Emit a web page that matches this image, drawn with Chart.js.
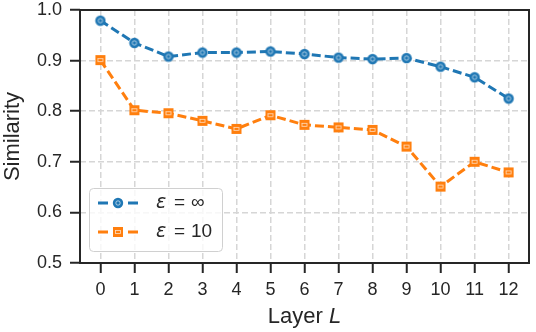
<!DOCTYPE html>
<html lang="en">
<head>
  <meta charset="UTF-8" />
  <title>Similarity per layer</title>
  <script src="https://cdn.jsdelivr.net/npm/chart.js"></script>
  <style>
    html, body { margin: 0; padding: 0; background: #fff; }
  </style>
</head>
<body>
  <canvas id="simChart" width="536" height="332"></canvas>

  <script>
    // data
    const layers = [0, 1, 2, 3, 4, 5, 6, 7, 8, 9, 10, 11, 12];
    const simInf = [0.979, 0.935, 0.908, 0.916, 0.916, 0.918, 0.913, 0.906, 0.903, 0.905, 0.888, 0.867, 0.825];
    const sim10 = [0.901, 0.802, 0.796, 0.781, 0.765, 0.792, 0.773, 0.768, 0.763, 0.730, 0.651, 0.700, 0.679];
    const yTicks = [0.5, 0.6, 0.7, 0.8, 0.9, 1.0];
    const epsLabels = ['\u221E', '10'];

    const BLUE = '#1f77b4';
    const ORANGE = '#ff7f0e';
    const INK = '#262626';
    const FONT = '"Liberation Sans", Arial, sans-serif';

    function makeMarker(color, shape) {
      const c = document.createElement('canvas');
      c.width = 12; c.height = 12;
      const g = c.getContext('2d');
      g.fillStyle = color;
      g.strokeStyle = 'rgba(255,255,255,0.75)';
      g.lineWidth = 0.8;
      if (shape === 'circle') {
        g.beginPath(); g.arc(6, 6, 5.2, 0, Math.PI * 2); g.fill();
        g.beginPath(); g.arc(6, 6, 2.2, 0, Math.PI * 2); g.stroke();
      } else {
        g.fillRect(1, 1, 10, 10);
        g.strokeRect(3.5, 4.5, 5, 3);
      }
      return c;
    }
    const markers = [makeMarker(BLUE, 'circle'), makeMarker(ORANGE, 'square')];

    // frame, axis titles and the legend box
    const decor = {
      id: 'decor',
      beforeDatasetsDraw(chart) {
        const { ctx, chartArea: a } = chart;
        ctx.save();
        ctx.strokeStyle = INK;
        ctx.lineWidth = 2;
        ctx.strokeRect(a.left, a.top, a.right - a.left, a.bottom - a.top);
        ctx.restore();
      },
      afterDraw(chart) {
        const { ctx, chartArea: a } = chart;
        ctx.save();
        ctx.fillStyle = INK;
        ctx.textBaseline = 'middle';

        // y title
        ctx.save();
        ctx.translate(13, (a.top + a.bottom) / 2);
        ctx.rotate(-Math.PI / 2);
        ctx.textAlign = 'center';
        ctx.font = '22px ' + FONT;
        ctx.fillText('Similarity', 0, 0);
        ctx.restore();

        // x title: "Layer " + italic L
        ctx.font = '22px ' + FONT;
        const w1 = ctx.measureText('Layer ').width;
        ctx.font = 'italic 22px ' + FONT;
        const w2 = ctx.measureText('L').width;
        let x0 = (a.left + a.right) / 2 - (w1 + w2) / 2;
        ctx.textAlign = 'left';
        ctx.font = '22px ' + FONT;
        ctx.fillText('Layer ', x0, 317);
        ctx.font = 'italic 22px ' + FONT;
        ctx.fillText('L', x0 + w1, 317);

        // legend
        const bx = 89.5, by = 188.5, bw = 133, bh = 63, r = 4;
        ctx.beginPath();
        ctx.roundRect(bx, by, bw, bh, r);
        ctx.fillStyle = 'rgba(255,255,255,0.8)';
        ctx.fill();
        ctx.strokeStyle = '#d0d0d0';
        ctx.lineWidth = 1;
        ctx.stroke();

        const rows = [203, 232];
        chart.data.datasets.forEach((ds, i) => {
          const y = rows[i];
          ctx.strokeStyle = ds.borderColor;
          ctx.lineWidth = 3;
          ctx.beginPath();
          ctx.moveTo(98, y); ctx.lineTo(108, y);
          ctx.moveTo(128, y); ctx.lineTo(138, y);
          ctx.stroke();
          ctx.drawImage(markers[i], 112, y - 6);
          ctx.fillStyle = INK;
          ctx.font = 'italic 19px "DejaVu Sans", sans-serif';
          ctx.fillText('\u03B5', 156, y);
          ctx.font = '19px ' + FONT;
          ctx.fillText('=', 174, y);
          ctx.fillText(epsLabels[i], 191, y);
        });
        ctx.restore();
      }
    };

    new Chart(document.getElementById('simChart'), {
      type: 'line',
      data: {
        datasets: [
          {
            label: '\u03B5 = \u221E',
            data: layers.map((l, i) => ({ x: l, y: simInf[i] })),
            borderColor: BLUE,
            backgroundColor: BLUE,
            borderWidth: 3,
            borderDash: [9, 4],
            pointStyle: markers[0],
            tension: 0
          },
          {
            label: '\u03B5 = 10',
            data: layers.map((l, i) => ({ x: l, y: sim10[i] })),
            borderColor: ORANGE,
            backgroundColor: ORANGE,
            borderWidth: 3,
            borderDash: [9, 4],
            pointStyle: markers[1],
            tension: 0
          }
        ]
      },
      options: {
        responsive: false,
        animation: false,
        devicePixelRatio: 1,
        layout: { padding: { top: 10, right: 3, left: 0, bottom: 0 } },
        plugins: { legend: { display: false }, tooltip: { enabled: false } },
        scales: {
          x: {
            type: 'linear',
            min: -0.6,
            max: 12.6,
            afterBuildTicks: s => { s.ticks = layers.map(v => ({ value: v })); },
            afterFit: s => { s.height = 69; s.paddingLeft = 0; s.paddingRight = 0; },
            grid: { color: '#d6d6d6', lineWidth: 1.5, tickLength: 10, tickColor: INK, tickWidth: 2, tickBorderDash: [] },
            border: { display: false, dash: [6, 3] },
            ticks: { color: INK, font: { family: FONT, size: 18 }, padding: 6, maxRotation: 0, autoSkip: false }
          },
          y: {
            min: 0.5,
            max: 1.0,
            afterBuildTicks: s => { s.ticks = yTicks.map(v => ({ value: v })); },
            afterFit: s => { s.width = 80; s.paddingTop = 0; s.paddingBottom = 0; },
            grid: { color: '#d6d6d6', lineWidth: 1.5, tickLength: 10, tickColor: INK, tickWidth: 2, tickBorderDash: [] },
            border: { display: false, dash: [6, 3] },
            ticks: { color: INK, font: { family: FONT, size: 18 }, padding: 8, callback: v => v.toFixed(1) }
          }
        }
      },
      plugins: [decor]
    });
  </script>
</body>
</html>
